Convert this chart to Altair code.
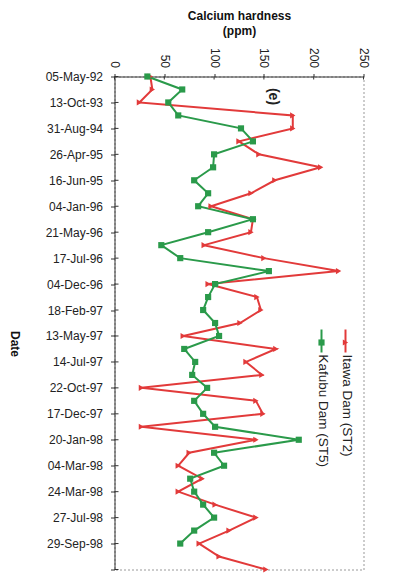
import altair as alt
import pandas as pd

date_labels = ['05-May-92', '13-Oct-93', '31-Aug-94', '26-Apr-95', '16-Jun-95',
               '04-Jan-96', '21-May-96', '17-Jul-96', '04-Dec-96', '18-Feb-97',
               '13-May-97', '14-Jul-97', '22-Oct-97', '17-Dec-97', '20-Jan-98',
               '04-Mar-98', '24-Mar-98', '27-Jul-98', '29-Sep-98']

itawa = [36, 38, 25, 179, 179, 125, 145, 207, 161, 137, 97, 139, 137, 90, 150,
         225, 94, 143, 147, 126, 69, 162, 132, 148, 27, 142, 149, 27, 142, 75,
         64, 88, 64, 101, 142, 115, 85, 105, 152]

kafubu = [33, 68, 54, 64, 127, 139, 100, 99, 80, 94, 84, 139, 94, 47, 66, 155,
          101, 94, 89, 101, 105, 70, 81, 78, 93, 80, 89, 101, 185, 100, 110, 76,
          80, 89, 100, 80, 66]

x_ticks = [0, 50, 100, 150, 200, 250]
series_names = ['Itawa Dam (ST2)', 'Kafubu Dam (ST5)']
RED = '#e23a3a'
GREEN = '#2a9a4a'
FONT = 'Liberation Sans'

rows = []
for i, v in enumerate(itawa):
    rows.append({'idx': i, 'value': v, 'series': series_names[0]})
for i, v in enumerate(kafubu):
    rows.append({'idx': i, 'value': v, 'series': series_names[1]})
df = pd.DataFrame(rows)

n_max = max(len(itawa), len(kafubu)) - 1
y_tick_vals = list(range(0, 2 * len(date_labels), 2)) + [n_max]
arr = '[' + ','.join("'%s'" % s for s in date_labels) + ']'
label_expr = "datum.value < %d ? %s[round(datum.value/2)] : ''" % (2 * len(date_labels), arr)

x_scale = alt.Scale(domain=[0, 250], nice=False, zero=False)
y_scale = alt.Scale(domain=[0, n_max], nice=False, reverse=True, zero=False)
color_scale = alt.Scale(domain=series_names, range=[RED, GREEN])
shape_scale = alt.Scale(domain=series_names, range=['triangle-right', 'square'])

x_axis = alt.Axis(orient='top', values=x_ticks, labelAngle=90,
                  labelAlign='right', labelBaseline='middle',
                  labelPadding=6, tickSize=3, grid=False,
                  labelOverlap=False,
                  title=['Calcium hardness', '(ppm)'],
                  titleBaseline='top', titleY=-66, titleLineHeight=15,
                  titleFontSize=12, titleFontWeight='bold',
                  labelFontSize=12, labelFont=FONT, titleFont=FONT,
                  labelColor='#222', titleColor='#111',
                  domainColor='#333', tickColor='#333')
y_axis = alt.Axis(values=y_tick_vals, labelExpr=label_expr,
                  labelOverlap=False, labelFlush=False, labelBound=False,
                  tickSize=4, labelPadding=8, grid=False,
                  labelFontSize=12, labelFont=FONT, labelColor='#222',
                  title='Date', titleAngle=90, titleX=-100, titleY=267,
                  titleAlign='center', titleBaseline='middle',
                  titleFont=FONT, titleFontSize=12, titleFontWeight='bold',
                  titleColor='#111', domainColor='#333', tickColor='#333')

base = alt.Chart(df)

lines = base.mark_line(strokeWidth=2).encode(
    x=alt.X('value:Q', scale=x_scale, axis=x_axis),
    y=alt.Y('idx:Q', scale=y_scale, axis=y_axis),
    color=alt.Color('series:N', scale=color_scale, legend=None),
    detail='series:N',
    order=alt.Order('idx:Q'),
)

points = base.mark_point(filled=True, size=38, opacity=1).encode(
    x=alt.X('value:Q', scale=x_scale, axis=x_axis),
    y=alt.Y('idx:Q', scale=y_scale, axis=y_axis),
    color=alt.Color('series:N', scale=color_scale, legend=None),
    shape=alt.Shape('series:N', scale=shape_scale, legend=None),
)

# inner half of the crossing ticks
xt_df = pd.DataFrame({'value': x_ticks})
x_inner = alt.Chart(xt_df).mark_rule(color='#333', strokeWidth=1).encode(
    x=alt.X('value:Q', scale=x_scale, axis=x_axis), y=alt.value(0), y2=alt.value(3))
yt_df = pd.DataFrame({'idx': y_tick_vals})
y_inner = alt.Chart(yt_df).mark_rule(color='#333', strokeWidth=1).encode(
    y=alt.Y('idx:Q', scale=y_scale, axis=y_axis), x=alt.value(0), x2=alt.value(4))

one = pd.DataFrame({'a': [0]})
legend_layers = []
for name, col, shp, lx in [(series_names[0], RED, 'triangle-right', 231),
                           (series_names[1], GREEN, 'square', 207)]:
    legend_layers.append(alt.Chart(one).mark_rule(color=col, strokeWidth=2).encode(
        x=alt.value(lx), y=alt.value(253), y2=alt.value(276)))
    legend_layers.append(alt.Chart(one).mark_point(filled=True, size=38, opacity=1,
                                                   color=col, shape=shp).encode(
        x=alt.value(lx), y=alt.value(266)))
    legend_layers.append(alt.Chart(one).mark_text(
        text=name, angle=90, align='left', baseline='middle', font=FONT,
        fontSize=13.5, color='#222').encode(x=alt.value(lx + 1), y=alt.value(278)))

panel_label = alt.Chart(one).mark_text(
    text='(e)', angle=90, align='center', baseline='middle', font=FONT,
    fontSize=14, fontWeight='bold', color='#222').encode(
    x=alt.value(158), y=alt.value(20))

chart = alt.layer(lines, points, x_inner, y_inner, *legend_layers, panel_label).properties(
    width=249, height=493,
    autosize=alt.AutoSizeParams(type='none'),
    padding={'left': 106.5, 'top': 68.5, 'right': 45, 'bottom': 6},
    background='white',
).configure_view(stroke='#999', strokeDash=[2, 2], strokeWidth=1
).configure_axis(labelOverlap=False)

chart.save('out.html', embed_options={'renderer': 'svg', 'actions': False})
